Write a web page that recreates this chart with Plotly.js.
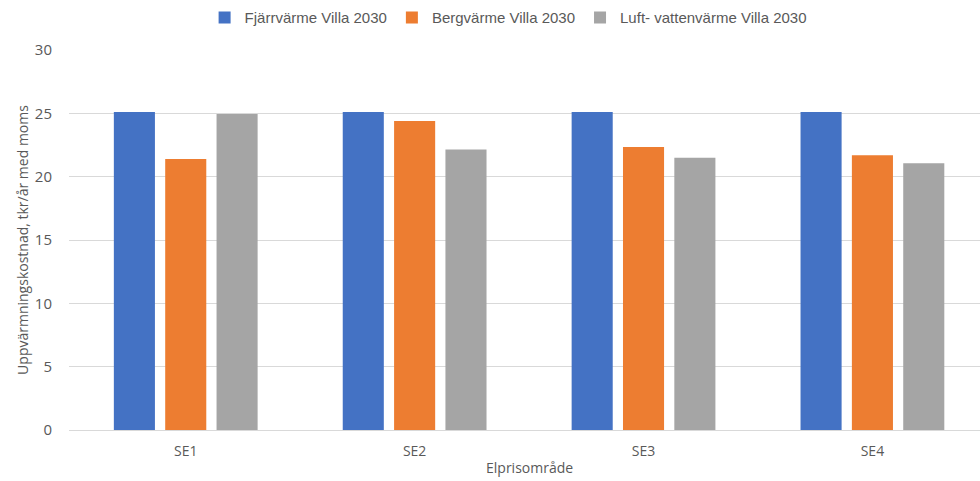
<!DOCTYPE html>
<html><head><meta charset="utf-8">
<script src="https://cdn.plot.ly/plotly-3.0.1.min.js"></script>
<style>html,body{margin:0;padding:0;background:#fff}#c{width:980px;height:481px}</style>
</head><body><div id="c"></div>
<script>
const categories = ["SE1", "SE2", "SE3", "SE4"];
const seriesNames = ["Fjärrvärme Villa 2030", "Bergvärme Villa 2030", "Luft- vattenvärme Villa 2030"];
const fjarrvarme = [25.1, 25.1, 25.1, 25.1];
const bergvarme = [21.4, 24.4, 22.35, 21.7];
const luftvatten = [24.95, 22.15, 21.5, 21.05];
const colors = ["#4472C4", "#ED7D31", "#A5A5A5"];
const values = [fjarrvarme, bergvarme, luftvatten];
const xTitle = "Elprisområde";
const yTitle = "Uppvärmningskostnad, tkr/år med moms";

const traces = values.map((v, i) => ({
  type: "bar", x: categories, y: v, name: seriesNames[i],
  marker: {color: colors[i]}, hoverinfo: "none"
}));

const layout = {
  width: 980, height: 481,
  margin: {l: 69, r: 0, t: 50, b: 51},
  paper_bgcolor: "#fff", plot_bgcolor: "#fff",
  barmode: "group", bargap: 0.327, bargroupgap: 0.2,
  font: {family: "Open Sans, sans-serif", color: "#595959"},
  showlegend: true,
  legend: {orientation: "h", x: 0.482, xanchor: "center", y: 0.963, yanchor: "middle",
    yref: "container", font: {family: "Liberation Sans, Arial, sans-serif", size: 15, color: "#595959"},
    itemwidth: 30, tracegroupgap: 0},
  xaxis: {range: [-0.51, 3.47], showgrid: false, zeroline: false, showline: true,
    linecolor: "#d9d9d9", linewidth: 1, ticks: "", ticklabelstandoff: 8,
    tickfont: {size: 14, color: "#595959", family: "Liberation Sans Narrow, Open Sans, sans-serif"}},
  yaxis: {range: [0, 30], dtick: 5, showgrid: true, gridcolor: "#d9d9d9", gridwidth: 1,
    zeroline: false, showline: false, ticks: "", ticklen: 0, ticklabelstandoff: 16,
    tickfont: {size: 15, color: "#595959"},
    title: {text: yTitle, font: {size: 14, color: "#595959"}, standoff: 2}},
  annotations: [{text: xTitle, xref: "paper", yref: "paper", x: 0.505, y: -0.128,
    xanchor: "center", yanchor: "bottom", showarrow: false,
    font: {size: 14, color: "#595959", family: "Open Sans, sans-serif"}}]
};

Plotly.newPlot("c", traces, layout, {staticPlot: true, displayModeBar: false});
</script></body></html>
